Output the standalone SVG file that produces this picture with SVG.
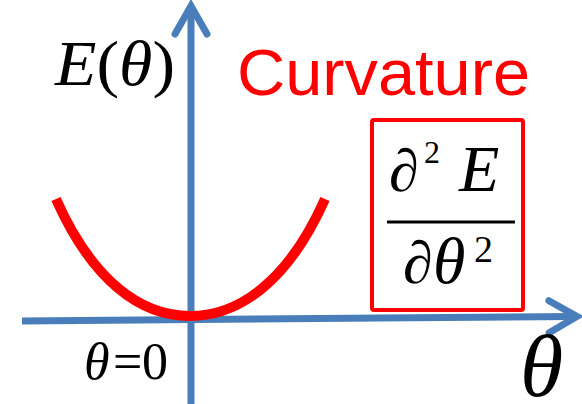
<svg xmlns="http://www.w3.org/2000/svg" width="582" height="404" viewBox="0 0 582 404">
<style>
.ax{stroke:#4A7EBB;stroke-width:7;fill:none}
.m{font-family:"Liberation Serif","DejaVu Serif",serif;fill:#000}
.i{font-style:italic}
</style>
<defs>
<marker id="ah" markerUnits="userSpaceOnUse" orient="auto" overflow="visible" markerWidth="40" markerHeight="40" refX="0" refY="0">
<path d="M-24,-16 L4,0 L-24,16" stroke="#4A7EBB" stroke-width="7" fill="none" stroke-linecap="round" stroke-linejoin="miter"/>
</marker>
</defs>
<rect width="582" height="404" fill="#fff"/>
<g id="connectors">
<line class="ax" x1="22" y1="321" x2="573" y2="316.5" marker-end="url(#ah)"/>
<line class="ax" x1="191" y1="404" x2="191" y2="10" marker-end="url(#ah)"/>
</g>
<g id="curve">
<path d="M56,199 C92,280 140,316 190,316 C240,316 289,280 325,199" stroke="#FF0000" stroke-width="10" fill="none"/>
</g>
<g id="ylabel">
<text class="m" x="55" y="85" font-size="64" textLength="120" lengthAdjust="spacingAndGlyphs"><tspan class="i">E</tspan>(<tspan class="i">θ</tspan>)</text>
</g>
<g id="title">
<text x="237" y="95" font-family="Liberation Sans, Arial, sans-serif" font-size="64" fill="#FF0000" textLength="293" lengthAdjust="spacingAndGlyphs">Curvature</text>
</g>
<g id="formula">
<rect x="372" y="120" width="151" height="190" rx="2" fill="none" stroke="#FF0000" stroke-width="4"/>
<text class="m" x="389" y="191" font-size="60">∂</text>
<text class="m" x="424" y="163" font-size="32">2</text>
<text class="m i" x="459" y="191" font-size="66">E</text>
<line x1="387" y1="222" x2="515" y2="222" stroke="#000" stroke-width="3"/>
<text class="m" x="403" y="283" font-size="60">∂</text>
<text class="m i" x="433" y="283" font-size="66">θ</text>
<text class="m" x="474" y="262" font-size="38">2</text>
</g>
<g id="origin">
<text class="m" y="379" font-size="52"><tspan class="i" x="84">θ</tspan><tspan x="113">=</tspan><tspan x="142">0</tspan></text>
</g>
<g id="xlabel">
<text class="m i" x="520" y="396" font-size="88">θ</text>
</g>
</svg>
